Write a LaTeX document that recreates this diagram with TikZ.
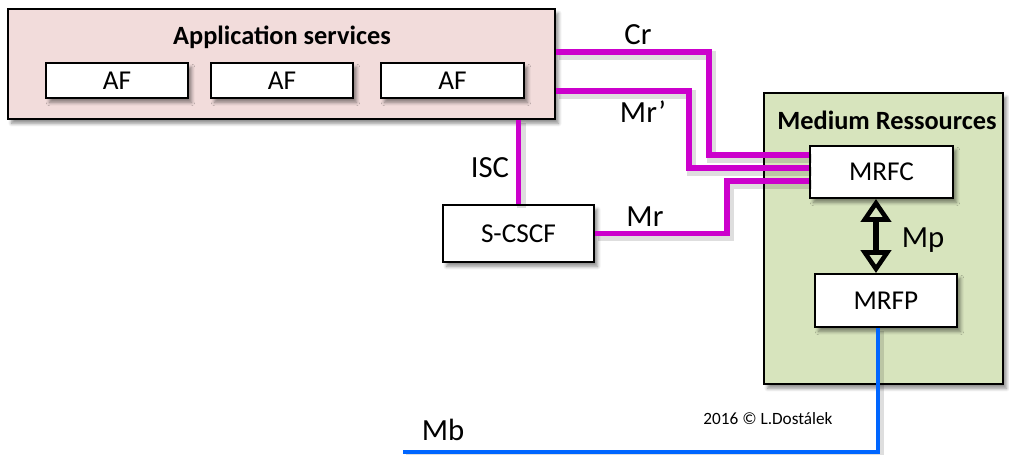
\documentclass[tikz,border=0pt]{standalone}
\usepackage{fontspec}
\setmainfont{Carlito}
\usetikzlibrary{calc,arrows.meta,shadows.blur}
\definecolor{apppink}{HTML}{F2DCDB}
\definecolor{mediumgreen}{HTML}{D7E4BD}
\definecolor{sigmagenta}{HTML}{CC00CC}
\definecolor{mbblue}{HTML}{0066FF}

\begin{document}
\begin{tikzpicture}[x=0.02cm,y=-0.02cm,
    box/.style={draw=black,line width=1.1pt,fill=white,inner sep=0pt,
      font=\fontsize{15.5}{17}\selectfont,
      blur shadow={shadow xshift=2pt,shadow yshift=-2.5pt,shadow blur steps=6,shadow opacity=45}},
    group/.style={box,font=\bfseries\fontsize{15}{17}\selectfont},
    lineshadow/.style={preaction={draw=black,draw opacity=0.13,line width=#1,
      transform canvas={shift={(1.5pt,-2pt)}}}},
    sig/.style={draw=sigmagenta,line width=3.4pt,lineshadow=5pt},
    mb/.style={draw=mbblue,line width=2.8pt,lineshadow=4pt},
    mp/.style={draw=black,line width=3.2pt,
      {Triangle[open,length=13pt,width=17pt,line width=2.6pt]}-{Triangle[open,length=13pt,width=17pt,line width=2.6pt]}},
    lbl/.style={font=\fontsize{17.5}{20}\selectfont}]
  \useasboundingbox (0,0) rectangle (1009,454);

  \node[group,fill=apppink,minimum width=10.94cm,minimum height=2.2cm] (apps) at (281.5,64) {};
  \node[font=\bfseries\fontsize{15}{17}\selectfont] (appstitle) at (282,37) {Application services};
  \node[box,minimum width=2.84cm,minimum height=0.7cm] (af1) at (117,80.5) {AF};
  \node[box,minimum width=2.84cm,minimum height=0.7cm] (af2) at (282,80.5) {AF};
  \node[box,minimum width=2.86cm,minimum height=0.7cm] (af3) at (452.5,80.5) {AF};

  \node[box,minimum width=3.02cm,minimum height=1.14cm] (scscf) at (518.5,233.5) {S-CSCF};

  \node[group,fill=mediumgreen,minimum width=4.78cm,minimum height=5.82cm] (medium) at (883.5,238.5) {};
  \node[font=\bfseries\fontsize{15}{17}\selectfont] (mediumtitle) at (887,120) {Medium Ressources};
  \node[box,minimum width=2.86cm,minimum height=1.04cm] (mrfc) at (881.5,172) {MRFC};
  \node[box,minimum width=2.84cm,minimum height=1.06cm] (mrfp) at (886,300.5) {MRFP};

  \draw[sig] ($(apps.north east)+(0,44)$) -- ++(153,0) |- ($(mrfc.west)+(0,-17)$);
  \draw[sig] ($(apps.north east)+(0,83)$) -- ++(133,0) |- ($(mrfc.west)+(0,-4)$);
  \draw[sig] (scscf.east) -- ++(132,0) |- ($(mrfc.west)+(0,9)$);
  \draw[sig] (scscf.north) -- (scscf.north |- apps.south);

  \coordinate (mptop) at ($(mrfc.south)+(-5.5,0)$);
  \draw[mp] (mptop) -- (mptop |- mrfp.north);

  \coordinate (mbend) at (403,452);
  \draw[mb] ($(mrfp.south)+(-8,0)$) |- (mbend);

  \node[lbl] (crlbl) at (638,35) {Cr};
  \node[lbl] (mrplbl) at (643,112) {Mr’};
  \node[lbl] (isclbl) at (490,168) {ISC};
  \node[lbl] (mrlbl) at (645,217) {Mr};
  \node[lbl] (mplbl) at (923,240) {Mp};
  \node[lbl] (mblbl) at (443,430) {Mb};
  \node[font=\fontsize{9.8}{11}\selectfont] (copy) at (768,419) {2016 © L.Dostálek};
\end{tikzpicture}
\end{document}
